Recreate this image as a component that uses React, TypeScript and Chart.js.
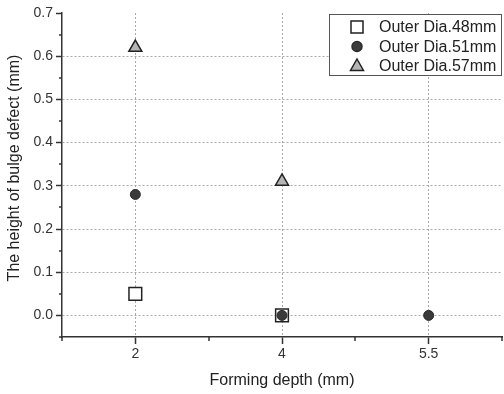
import React, { useEffect, useRef } from 'react';
import { Chart, registerables } from 'chart.js';

Chart.register(...registerables);

const depthLabels = ['2', '4', '5.5'];
const seriesLabels = ['Outer Dia.48mm', 'Outer Dia.51mm', 'Outer Dia.57mm'];
const dia48 = [0.05, 0.0, null];
const dia51 = [0.28, 0.0, 0.0];
const dia57 = [0.62, 0.31, null];
const yTicks = [0, 0.1, 0.2, 0.3, 0.4, 0.5, 0.6, 0.7];
const yMinorTicks = [-0.05, 0.05, 0.15, 0.25, 0.35, 0.45, 0.55, 0.65];
const xMinorTicks = [-0.5, 0.5, 1.5, 2.5];
const yTitle = 'The height of bulge defect (mm)';
const xTitle = 'Forming depth (mm)';

const AXIS = '#333333';
const FONT = "'Liberation Sans', Arial, sans-serif";

const minorTicks = {
  id: 'minorTicks',
  afterDraw(chart: any) {
    const { ctx } = chart;
    const xs = chart.scales.x;
    const ys = chart.scales.y;
    ctx.save();
    ctx.strokeStyle = AXIS;
    ctx.lineWidth = 1.5;
    ctx.beginPath();
    yMinorTicks.forEach((v) => {
      const py = Math.round(ys.getPixelForValue(v));
      ctx.moveTo(xs.left - 3, py);
      ctx.lineTo(xs.left, py);
    });
    xMinorTicks.forEach((v) => {
      const px = Math.round(xs.getPixelForValue(v));
      ctx.moveTo(px, ys.bottom);
      ctx.lineTo(px, ys.bottom + 4);
    });
    ctx.stroke();
    // y-axis title
    ctx.translate(15, 168);
    ctx.rotate(-Math.PI / 2);
    ctx.fillStyle = '#222222';
    ctx.font = `16px ${FONT}`;
    ctx.textAlign = 'center';
    ctx.textBaseline = 'middle';
    ctx.fillText(yTitle, 0, 0);
    ctx.restore();
  },
};

function drawMarker(ctx: any, style: string, cx: number, cy: number, fill: string, stroke: string) {
  ctx.beginPath();
  if (style === 'rect') {
    ctx.rect(cx - 6, cy - 6, 12, 12);
  } else if (style === 'circle') {
    ctx.arc(cx, cy, 5, 0, Math.PI * 2);
  } else {
    ctx.moveTo(cx, cy - 7);
    ctx.lineTo(cx + 6.5, cy + 4.5);
    ctx.lineTo(cx - 6.5, cy + 4.5);
    ctx.closePath();
  }
  ctx.fillStyle = fill;
  ctx.fill();
  ctx.strokeStyle = stroke;
  ctx.lineWidth = 1.5;
  ctx.stroke();
}

const legendBox = {
  id: 'legendBox',
  afterDraw(chart: any) {
    const { ctx, chartArea } = chart;
    const w = 173;
    const h = 62;
    const x0 = chartArea.right - w;
    const y0 = chartArea.top + 1;
    ctx.save();
    ctx.fillStyle = '#ffffff';
    ctx.fillRect(x0, y0, w, h);
    ctx.strokeStyle = '#555555';
    ctx.lineWidth = 1;
    ctx.strokeRect(x0 + 0.5, y0 + 0.5, w - 1, h - 1);
    chart.data.datasets.forEach((ds: any, i: number) => {
      const cy = y0 + 13 + i * 19.5;
      drawMarker(ctx, ds.pointStyle, x0 + 28, cy, ds.backgroundColor, ds.borderColor);
      ctx.fillStyle = '#222222';
      ctx.font = `16px ${FONT}`;
      ctx.textBaseline = 'middle';
      ctx.textAlign = 'left';
      ctx.fillText(ds.label, x0 + 50, cy + 1);
    });
    ctx.restore();
  },
};

export default function App() {
  const ref = useRef<HTMLCanvasElement | null>(null);

  useEffect(() => {
    if (!ref.current) return;
    Chart.defaults.font.family = FONT;
    Chart.defaults.color = '#333333';
    const chart = new Chart(ref.current, {
      type: 'line',
      data: {
        labels: depthLabels,
        datasets: [
          {
            label: seriesLabels[0],
            data: dia48,
            showLine: false,
            pointStyle: 'rect',
            pointRadius: 9,
            backgroundColor: '#ffffff',
            borderColor: '#222222',
            pointBorderWidth: 1.5,
            order: 2,
          },
          {
            label: seriesLabels[1],
            data: dia51,
            showLine: false,
            pointStyle: 'circle',
            pointRadius: 5,
            backgroundColor: '#3a3a3a',
            borderColor: '#2a2a2a',
            pointBorderWidth: 1,
            order: 1,
          },
          {
            label: seriesLabels[2],
            data: dia57,
            showLine: false,
            pointStyle: 'triangle',
            pointRadius: 7.5,
            backgroundColor: '#b5b5b5',
            borderColor: '#222222',
            pointBorderWidth: 1.5,
            order: 0,
          },
        ] as any,
      },
      options: {
        responsive: false,
        animation: false,
        layout: { autoPadding: false, padding: { left: 0, right: 2, top: 13, bottom: 0 } },
        plugins: {
          legend: { display: false },
          tooltip: { enabled: false },
        },
        scales: {
          x: {
            type: 'category',
            offset: true,
            grid: {
              offset: false,
              color: '#aaaaaa',
              tickColor: AXIS,
              tickLength: 7,
              tickWidth: 1.5,
              tickBorderDash: [],
            } as any,
            border: { color: AXIS, width: 1.5, dash: [2, 2] },
            ticks: { font: { size: 14 }, color: '#333333', padding: 2, maxRotation: 0 },
            title: {
              display: true,
              text: xTitle,
              font: { size: 16 },
              color: '#222222',
              padding: { top: 0, bottom: 4 },
            },
            afterFit: (s: any) => {
              s.height = 57;
              s.paddingLeft = 0;
              s.paddingRight = 0;
            },
          },
          y: {
            type: 'linear',
            min: -0.05,
            max: 0.7,
            afterBuildTicks: (s: any) => {
              s.ticks = yTicks.map((v) => ({ value: v }));
            },
            grid: {
              color: (c: any) => (c.tick && c.tick.value >= 0.69 ? 'rgba(0,0,0,0)' : '#aaaaaa'),
              tickColor: AXIS,
              tickLength: 6,
              tickWidth: 1.5,
              tickBorderDash: [],
            } as any,
            border: { color: AXIS, width: 1.5, dash: [2, 2] },
            ticks: {
              font: { size: 14 },
              color: '#333333',
              padding: 3,
              callback: (v: any) => Number(v).toFixed(1),
            },
            title: { display: false, text: yTitle },
            afterFit: (s: any) => {
              s.width = 62;
            },
          },
        },
      },
      plugins: [minorTicks, legendBox],
    });
    return () => chart.destroy();
  }, []);

  return (
    <div style={{ position: 'absolute', left: 0, top: 0, width: 504, height: 394, background: '#ffffff' }}>
      <canvas ref={ref} width={504} height={394} style={{ width: 504, height: 394, display: 'block' }} />
    </div>
  );
}
